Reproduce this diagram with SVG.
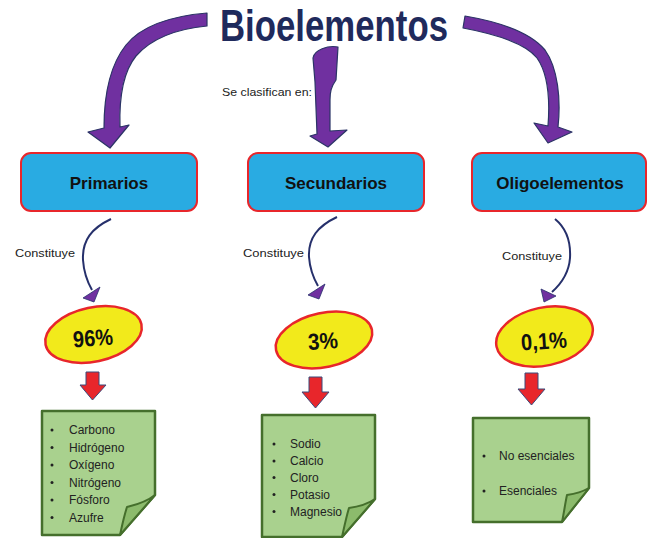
<svg xmlns="http://www.w3.org/2000/svg" width="649" height="538" viewBox="0 0 649 538">
<style>
.big{fill:#7030a0;stroke:#2b3466;stroke-width:1.2;stroke-linejoin:round}
.box{fill:#29abe2;stroke:#e8262b;stroke-width:2}
.blab{font-family:"Liberation Sans",Arial,sans-serif;font-weight:bold;font-size:17px;fill:#111;text-anchor:middle}
.ell{fill:#f2ea1b;stroke:#e8262b;stroke-width:2.5}
.pct{font-family:"Liberation Sans",Arial,sans-serif;font-weight:bold;font-size:23px;fill:#111}
.con{fill:none;stroke:#26306b;stroke-width:2}
.head{fill:#7030a0;stroke:#26306b;stroke-width:0.8}
.red{fill:#e8262b;stroke:#3b4a7a;stroke-width:1}
.note{fill:#a9d18e;stroke:#456f2c;stroke-width:2.5;stroke-linejoin:round}
.flap{fill:#8cbb6c;stroke:#456f2c;stroke-width:2;stroke-linejoin:round}
.li{font-family:"Liberation Sans",Arial,sans-serif;font-size:12px;fill:#222}
.bul{fill:#222}
.small{font-family:"Liberation Sans",Arial,sans-serif;font-size:11px;fill:#222}
</style>

<g id="title">
<text x="220" y="41" font-family="Liberation Sans,Arial,sans-serif" font-weight="bold" font-size="45" fill="#1f2a5c" textLength="228" lengthAdjust="spacingAndGlyphs">Bioelementos</text>
</g>
<g id="clasifican">
<text class="small" x="222" y="96" textLength="90" lengthAdjust="spacingAndGlyphs">Se clasifican en:</text>
</g>

<g id="connectors">
<path class="big" d="M207,13 C172,16 142,25 126,45 C110,65 104,95 104,128 L88,132 L110,148 L129,125 L120,127 C119,96 123,72 136,56 C151,39 176,29 207,26 Z"/>
<path class="big" d="M313,58 C314,50 328,45 338,47 L336,80 C331,87 330,92 330,100 L330,131 L347,130 L328,147 L310,136 L317,134 L315,82 Z"/>
<path class="big" d="M465,16 C500,22 530,32 545,50 C558,68 561,100 558,127 L572,132 L548,143 L534,123 L548,126 C550,100 549,75 537,58 C525,43 495,34 463,28 Z"/>

<path class="con" d="M111,219 C92,228 82,240 83,260 C84,275 88,283 92,290"/>
<polygon class="head" points="83,298 100,287 94,302"/>
<path class="con" d="M337,217 C318,226 308,238 309,257 C310,271 314,279 318,286"/>
<polygon class="head" points="308,295 325,284 319,299"/>
<path class="con" d="M555,219 C566,228 571,240 570,258 C569,272 562,283 552,292"/>
<polygon class="head" points="544,302 541,289 556,296"/>

<path class="red" d="M86,372 L99,372 L99,385 L106,385 L92.5,400 L80,385 L86,385 Z"/>
<path class="red" d="M309,377 L322,377 L322,392 L329,392 L315.5,408 L302,392 L309,392 Z"/>
<path class="red" d="M525,373 L538,373 L538,389 L545,389 L531.5,405 L518,389 L525,389 Z"/>
</g>

<g id="primarios">
<rect class="box" x="21" y="153" width="176" height="58" rx="10"/>
<text class="blab" x="109" y="189">Primarios</text>
</g>
<g id="secundarios">
<rect class="box" x="248" y="153" width="176" height="58" rx="10"/>
<text class="blab" x="336" y="189">Secundarios</text>
</g>
<g id="oligoelementos">
<rect class="box" x="472" y="153" width="174" height="58" rx="10"/>
<text class="blab" x="560" y="189">Oligoelementos</text>
</g>

<g id="constituye1"><text class="small" x="15" y="257" textLength="60" lengthAdjust="spacingAndGlyphs">Constituye</text></g>
<g id="constituye2"><text class="small" x="243" y="257" textLength="61" lengthAdjust="spacingAndGlyphs">Constituye</text></g>
<g id="constituye3"><text class="small" x="502" y="260" textLength="60" lengthAdjust="spacingAndGlyphs">Constituye</text></g>

<g id="p96">
<ellipse class="ell" cx="93.5" cy="334.5" rx="49" ry="27" transform="rotate(-12 93.5 334.5)"/>
<text class="pct" x="73" y="346" textLength="40" lengthAdjust="spacingAndGlyphs" transform="rotate(-4 93 338)">96%</text>
</g>
<g id="p3">
<ellipse class="ell" cx="324" cy="340" rx="49" ry="27" transform="rotate(-12 324 340)"/>
<text class="pct" x="308" y="349" textLength="30" lengthAdjust="spacingAndGlyphs" transform="rotate(-4 323 341)">3%</text>
</g>
<g id="p01">
<ellipse class="ell" cx="544.5" cy="336.5" rx="49" ry="29" transform="rotate(-12 544.5 336.5)"/>
<text class="pct" x="521" y="349" textLength="46" lengthAdjust="spacingAndGlyphs" transform="rotate(-4 544 341)">0,1%</text>
</g>

<g id="nota-primarios">
<path class="note" d="M42,411 L155,411 L155,495 L120,535 L42,535 Z"/>
<path class="flap" d="M155,495 C145,503 135,505 127,507 C124,516 122,526 120,535 Z"/>
<circle class="bul" cx="52" cy="430" r="1.5"/><text class="li" x="69" y="434">Carbono</text>
<circle class="bul" cx="52" cy="447.5" r="1.5"/><text class="li" x="69" y="451.5">Hidrógeno</text>
<circle class="bul" cx="52" cy="465" r="1.5"/><text class="li" x="69" y="469">Oxígeno</text>
<circle class="bul" cx="52" cy="482.5" r="1.5"/><text class="li" x="69" y="486.5">Nitrógeno</text>
<circle class="bul" cx="52" cy="500" r="1.5"/><text class="li" x="69" y="504">Fósforo</text>
<circle class="bul" cx="52" cy="517.5" r="1.5"/><text class="li" x="69" y="521.5">Azufre</text>
</g>

<g id="nota-secundarios">
<path class="note" d="M262,415 L375,415 L375,499 L342,537 L262,537 Z"/>
<path class="flap" d="M375,499 C366,505 357,507 349,508 C346,518 344,528 342,537 Z"/>
<circle class="bul" cx="274" cy="444" r="1.5"/><text class="li" x="290" y="448">Sodio</text>
<circle class="bul" cx="274" cy="461" r="1.5"/><text class="li" x="290" y="465">Calcio</text>
<circle class="bul" cx="274" cy="477.5" r="1.5"/><text class="li" x="290" y="481.5">Cloro</text>
<circle class="bul" cx="274" cy="494.5" r="1.5"/><text class="li" x="290" y="498.5">Potasio</text>
<circle class="bul" cx="274" cy="511.5" r="1.5"/><text class="li" x="290" y="515.5">Magnesio</text>
</g>

<g id="nota-oligoelementos">
<path class="note" d="M473,418 L589,418 L589,488 L562,522 L473,522 Z"/>
<path class="flap" d="M589,488 C582,492 574,494 567,495 C565,504 564,513 562,522 Z"/>
<circle class="bul" cx="484" cy="456" r="1.5"/><text class="li" x="499" y="460">No esenciales</text>
<circle class="bul" cx="484" cy="491" r="1.5"/><text class="li" x="499" y="495">Esenciales</text>
</g>
</svg>
